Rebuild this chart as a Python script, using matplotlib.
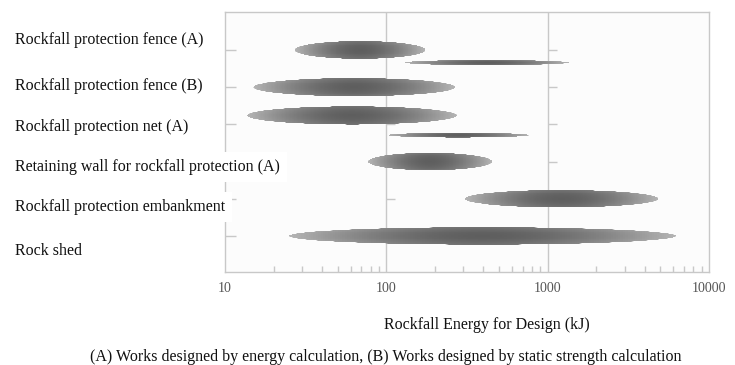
import numpy as np
import matplotlib
matplotlib.use("Agg")
import matplotlib.pyplot as plt
from matplotlib.patches import Polygon
from matplotlib.ticker import FixedLocator, NullFormatter

plt.rcParams['font.family'] = ['Liberation Serif', 'DejaVu Serif']

# ---- data ----
categories = [
    "Rockfall protection fence (A)",
    "Rockfall protection fence (B)",
    "Rockfall protection net (A)",
    "Retaining wall for rockfall protection (A)",
    "Rockfall protection embankment",
    "Rock shed",
]
# ranges (kJ): low, high, category index
range_low = [27, 130, 15, 13.7, 102, 77, 307, 25]
range_high = [175, 1350, 267, 274, 770, 452, 4850, 6250]
range_cat = [0, 0, 1, 2, 2, 3, 4, 5]
range_offset = [0.0, 0.34, 0.0, -0.24, 0.29, 0.0, 0.0, 0.0]
range_thick = [0.48, 0.14, 0.49, 0.49, 0.13, 0.47, 0.47, 0.47]
x_ticks = [10, 100, 1000, 10000]
x_ticklabels = ["10", "100", "1000", "10000"]
xlabel = "Rockfall Energy for Design (kJ)"
caption = "(A) Works designed by energy calculation, (B) Works designed by static strength calculation"

# ---- figure ----
W, H = 735, 365
fig = plt.figure(figsize=(W / 100, H / 100), dpi=100)
fig.patch.set_facecolor('white')
ax = fig.add_axes([225 / W, (H - 272) / H, 484 / W, 260 / H])
ax.set_facecolor('#fcfcfc')
ax.set_xscale('log')
ax.set_xlim(10, 10000)
ax.set_ylim(5.97, -1.02)

spine_col = '#c8c8c8'
for s in ax.spines.values():
    s.set_color(spine_col)
    s.set_linewidth(1.0)

# gridlines at decades
for g in [100, 1000]:
    ax.axvline(g, color=spine_col, lw=1.0, zorder=1)
    # small tick marks next to gridlines
    ax.hlines(range(len(categories)), g, g * 10 ** (9 / 161.3), color=spine_col, lw=1.0, zorder=1)

ax.set_xticks(x_ticks)
ax.set_xticklabels(x_ticklabels)
ax.xaxis.set_minor_locator(FixedLocator([m * 10 ** e for e in range(1, 4) for m in range(2, 10)]))
ax.xaxis.set_minor_formatter(NullFormatter())
ax.tick_params(axis='x', which='major', direction='in', length=0, pad=7,
               labelsize=10, labelcolor='#555555', color=spine_col)
ax.tick_params(axis='x', which='minor', direction='in', length=4, width=1.0, color=spine_col)
ax.set_yticks(range(len(categories)))
ax.set_yticklabels([])
ax.tick_params(axis='y', which='both', direction='in', length=8, width=1.0, color=spine_col)
ax.yaxis.set_minor_locator(FixedLocator([]))


def draw_range(lo, hi, yc, h):
    a, b = np.log10(lo), np.log10(hi)
    cx, rx = (a + b) / 2, (b - a) / 2
    t = np.linspace(0, 2 * np.pi, 300)
    xs = 10 ** (cx + rx * np.cos(t))
    ys = yc + h / 2 * np.sin(t)
    poly = Polygon(np.column_stack([xs, ys]), closed=True, facecolor='none',
                   edgecolor='none', transform=ax.transData)
    ax.add_patch(poly)
    nx, ny = 160, 20
    xe = np.logspace(a, b, nx + 1)
    ye = np.linspace(yc - h / 2, yc + h / 2, ny + 1)
    xc = (np.log10(xe[:-1]) + np.log10(xe[1:])) / 2
    yc_ = (ye[:-1] + ye[1:]) / 2
    u = (xc - cx) / rx
    v = (yc_ - yc) / (h / 2)
    U, V = np.meshgrid(u, v)
    g = 0.37 + 0.34 * np.abs(U) ** 1.8 + 0.08 * V ** 2
    mesh = ax.pcolormesh(xe, ye, np.clip(g, 0, 1), cmap='gray', vmin=0, vmax=1,
                         shading='flat', zorder=3)
    mesh.set_clip_path(poly)


for lo, hi, c, off, th in zip(range_low, range_high, range_cat, range_offset, range_thick):
    draw_range(lo, hi, c + off, th)

# category labels on the left (baselines in pixels)
label_base = [44, 90, 131, 171, 211, 255]
for lab, yp in zip(categories, label_base):
    fig.text(15 / W, 1 - yp / H, lab, ha='left', va='baseline', fontsize=11.5, color='#111111',
             bbox=dict(facecolor='white', edgecolor='none', pad=5), zorder=5)

fig.text(487 / W, 1 - 329 / H, xlabel, ha='center', va='baseline', fontsize=11.5, color='#111111')
fig.text(386 / W, 1 - 361 / H, caption, ha='center', va='baseline', fontsize=11.5, color='#111111')

fig.savefig('out.png', dpi=100)
